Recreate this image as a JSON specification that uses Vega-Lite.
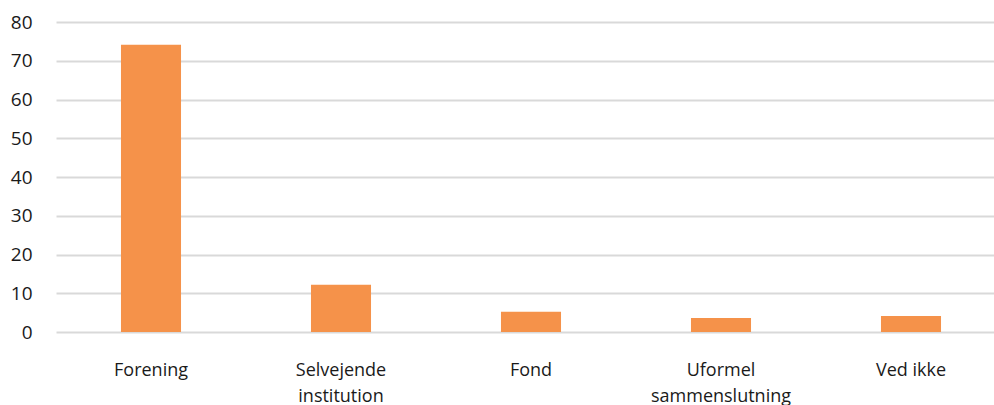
{
  "$schema": "https://vega.github.io/schema/vega-lite/v6.json",
  "autosize": {"type": "none"},
  "width": 938,
  "height": 310,
  "padding": {"left": 56, "top": 22, "right": 0, "bottom": 73},
  "background": "white",
  "config": {"view": {"stroke": null}, "font": "Open Sans"},
  "data": {"values": [
    {"category": "Forening", "value": 74.1},
    {"category": "Selvejende institution", "value": 12.2},
    {"category": "Fond", "value": 5.2},
    {"category": "Uformel sammenslutning", "value": 3.6},
    {"category": "Ved ikke", "value": 4.1}
  ]},
  "mark": {"type": "bar", "color": "#f5924a"},
  "encoding": {
    "x": {
      "field": "category", "type": "nominal", "sort": null,
      "scale": {"range": [0, 950], "paddingInner": 0.684, "paddingOuter": 0.342},
      "axis": {
        "title": null, "labelAngle": 0, "domain": false, "ticks": false,
        "labelFontSize": 18, "labelColor": "#1a1a1a", "labelPadding": 29,
        "labelLineHeight": 26, "labelFont": "Open Sans", "labelFontWeight": "normal",
        "labelExpr": "datum.label == 'Selvejende institution' ? ['Selvejende','institution'] : datum.label == 'Uformel sammenslutning' ? ['Uformel','sammenslutning'] : datum.label"
      }
    },
    "y": {
      "field": "value", "type": "quantitative",
      "scale": {"domain": [0, 80]},
      "axis": {
        "title": null, "values": [0,10,20,30,40,50,60,70,80],
        "domain": false, "ticks": false,
        "grid": true, "gridColor": "#d9d9d9", "gridWidth": 2,
        "labelFontSize": 19, "labelColor": "#1a1a1a", "labelPadding": 24,
        "labelFont": "Open Sans", "labelFontWeight": "normal"
      }
    }
  }
}
